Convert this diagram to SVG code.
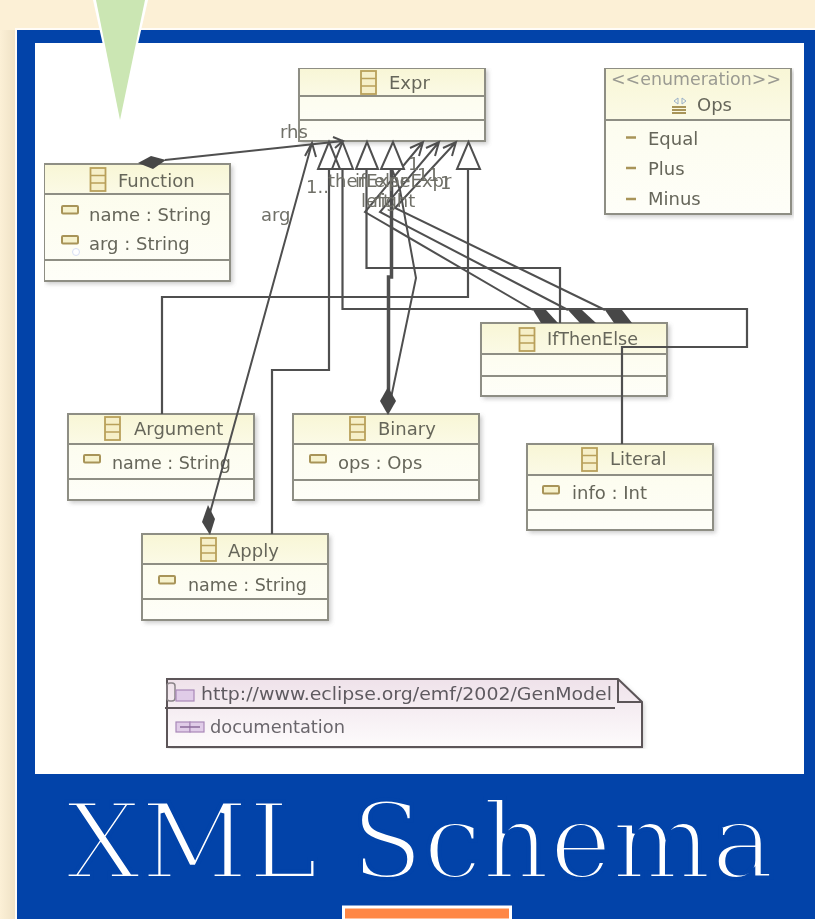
<svg xmlns="http://www.w3.org/2000/svg" xmlns:xlink="http://www.w3.org/1999/xlink" width="815" height="919" viewBox="0 0 815 919">
<style>
text{font-family:"DejaVu Sans",sans-serif;font-size:18px;fill:#66665a}
.box{fill:url(#body);stroke:#8e8e84;stroke-width:2}
.head{fill:url(#hd)}
.div{stroke:#8e8e84;stroke-width:2;fill:none}
.shadow{fill:#8c8c8c;opacity:.45;filter:url(#soft)}
.wire{fill:none;stroke:#505050;stroke-width:2.200}
.thin{fill:none;stroke:#505050;stroke-width:2}
.tri{fill:#fff;stroke:#505050;stroke-width:2}
.dk{fill:#474747}
.lbl{fill:#707068}
</style>
<defs>
<linearGradient id="bg" x1="0" x2="1" y1="0" y2="0"><stop offset="0" stop-color="#fcf0d6"/><stop offset="1" stop-color="#efe2c6"/></linearGradient>
<linearGradient id="hd" x1="0" x2="0" y1="0" y2="1"><stop offset="0" stop-color="#f8f6d6"/><stop offset="1" stop-color="#fbfae6"/></linearGradient>
<linearGradient id="body" x1="0" x2="0" y1="0" y2="1"><stop offset="0" stop-color="#fcfcea"/><stop offset="1" stop-color="#fefef8"/></linearGradient>
<linearGradient id="note" x1="0" x2="0" y1="0" y2="1"><stop offset="0" stop-color="#efe2ea"/><stop offset="1" stop-color="#fdfbfc"/></linearGradient>
<filter id="soft" x="-10%" y="-10%" width="120%" height="120%"><feGaussianBlur stdDeviation="2"/></filter>
<filter id="b" x="0" y="0" width="100%" height="100%"><feGaussianBlur stdDeviation="0.5"/></filter>
<g id="cls"><rect x="0" y="0" width="15" height="23" fill="#f6efc8" stroke="#b9a05a" stroke-width="1.8"/><path d="M0 7.500H15M0 15H15" stroke="#b9a05a" stroke-width="1.500"/></g>
<g id="att"><rect x="0" y="0" width="16" height="7.500" rx="1" fill="#f6f2cc" stroke="#a89458" stroke-width="2"/></g>
<g id="nicon"><rect x="0" y="0" width="14" height="10" fill="#e0cce8" stroke="#a888b8" stroke-width="1.200"/><rect x="14" y="0" width="14" height="10" fill="#e0cce8" stroke="#a888b8" stroke-width="1.200"/><path d="M4 5H24" stroke="#8a6a9a" stroke-width="1.500"/></g>
</defs>

<rect width="815" height="919" fill="#fcf0d6"/>
<rect x="0" y="30" width="15" height="889" fill="url(#bg)"/>
<rect x="15" y="28" width="800" height="891" fill="#fff" opacity=".8"/>
<rect x="17" y="30" width="798" height="889" fill="#0243a9"/>
<rect x="35" y="43" width="769" height="731" fill="#fff"/>
<polygon points="93,0 148,0 120,122" fill="#fff"/>
<polygon points="96,0 145,0 120,120" fill="#cbe6b3"/>

<g filter="url(#b)">
<g id="Expr">
<rect class="shadow" x="301" y="70" width="187" height="74"/>
<rect class="box" x="299" y="68" width="186" height="73"/>
<rect class="head" x="300" y="69" width="184" height="27"/>
<path class="div" d="M299 96H485M299 120H485"/>
<use xlink:href="#cls" x="361" y="71"/>
<text x="389" y="89">Expr</text>
</g>
<g id="Ops">
<rect class="shadow" x="607" y="70" width="187" height="147"/>
<rect class="box" x="605" y="68" width="186" height="146"/>
<rect class="head" x="606" y="69" width="184" height="51"/>
<path class="div" d="M605 120H791"/>
<text x="611" y="85" textLength="170" lengthAdjust="spacingAndGlyphs" style="fill:#9a9a92">&lt;&lt;enumeration&gt;&gt;</text>
<path d="M674 101l4-3v6zM686 101l-4-3v6z" fill="none" stroke="#9ab0c8" stroke-width="1"/>
<path d="M672 107h14M672 110h14M672 113h14" stroke="#a89458" stroke-width="2"/>
<text x="697" y="111">Ops</text>
<path d="M626 137.500h10M626 168h10M626 199h10" stroke="#a89458" stroke-width="2.500"/>
<text x="648" y="145">Equal</text>
<text x="648" y="175">Plus</text>
<text x="648" y="205">Minus</text>
</g>
<g id="Function">
<rect class="shadow" x="46" y="166" width="187" height="118"/>
<rect class="box" x="44" y="164" width="186" height="117"/>
<rect class="head" x="45" y="165" width="184" height="29"/>
<path class="div" d="M44 194H230M44 260H230"/>
<use xlink:href="#cls" x="90.500" y="168"/>
<text x="118" y="187">Function</text>
<use xlink:href="#att" x="62" y="206"/>
<text x="89" y="221">name : String</text>
<use xlink:href="#att" x="62" y="236"/>
<circle cx="76" cy="252" r="3.500" fill="#fff" stroke="#d8e0f4" stroke-width="1"/>
<text x="89" y="250">arg : String</text>
</g>
<g id="IfThenElse">
<rect class="shadow" x="483" y="325" width="187" height="74"/>
<rect class="box" x="481" y="323" width="186" height="73"/>
<rect class="head" x="482" y="324" width="184" height="30"/>
<path class="div" d="M481 354H667M481 376H667"/>
<use xlink:href="#cls" x="519.500" y="328"/>
<text x="547" y="345" textLength="91" lengthAdjust="spacingAndGlyphs">IfThenElse</text>
</g>
<g id="Argument">
<rect class="shadow" x="70" y="416" width="187" height="87"/>
<rect class="box" x="68" y="414" width="186" height="86"/>
<rect class="head" x="69" y="415" width="184" height="29"/>
<path class="div" d="M68 444H254M68 479H254"/>
<use xlink:href="#cls" x="105" y="417"/>
<text x="134" y="435">Argument</text>
<use xlink:href="#att" x="84" y="455"/>
<text x="112" y="469" textLength="119" lengthAdjust="spacingAndGlyphs">name : String</text>
</g>
<g id="Binary">
<rect class="shadow" x="295" y="416" width="187" height="87"/>
<rect class="box" x="293" y="414" width="186" height="86"/>
<rect class="head" x="294" y="415" width="184" height="29"/>
<path class="div" d="M293 444H479M293 480H479"/>
<use xlink:href="#cls" x="350" y="417"/>
<text x="378" y="435">Binary</text>
<use xlink:href="#att" x="310" y="455"/>
<text x="338" y="469">ops : Ops</text>
</g>
<g id="Literal">
<rect class="shadow" x="529" y="446" width="187" height="87"/>
<rect class="box" x="527" y="444" width="186" height="86"/>
<rect class="head" x="528" y="445" width="184" height="30"/>
<path class="div" d="M527 475H713M527 510H713"/>
<use xlink:href="#cls" x="582" y="448"/>
<text x="610" y="465">Literal</text>
<use xlink:href="#att" x="543" y="486"/>
<text x="572" y="499">info : Int</text>
</g>
<g id="Apply">
<rect class="shadow" x="144" y="536" width="187" height="87"/>
<rect class="box" x="142" y="534" width="186" height="86"/>
<rect class="head" x="143" y="535" width="184" height="29"/>
<path class="div" d="M142 564H328M142 599H328"/>
<use xlink:href="#cls" x="201" y="538"/>
<text x="228" y="557">Apply</text>
<use xlink:href="#att" x="159" y="576"/>
<text x="188" y="591" textLength="119" lengthAdjust="spacingAndGlyphs">name : String</text>
</g>
<g id="GenModel">
<path class="shadow" d="M169 681H620L644 704V749H169Z"/>
<path d="M167 679H618L642 702V747H167Z" fill="url(#note)" stroke="#5c5558" stroke-width="2"/>
<path d="M618 679V702H642" fill="none" stroke="#5c5558" stroke-width="2"/>
<path d="M165 708H615" stroke="#5c5558" stroke-width="2"/>
<rect x="167" y="683" width="8" height="18" rx="3" fill="none" stroke="#8a8488" stroke-width="1.500"/>
<rect x="176" y="690" width="18" height="11" fill="#e0cce8" stroke="#a888b8" stroke-width="1.200"/>
<text x="201" y="700" textLength="411" lengthAdjust="spacingAndGlyphs" style="fill:#5e5a60">http://www.eclipse.org/emf/2002/GenModel</text>
<use xlink:href="#nicon" x="176" y="722"/>
<text x="210" y="733" textLength="135" lengthAdjust="spacingAndGlyphs" style="fill:#6a666c">documentation</text>
</g>

<g id="connectors">
<path class="wire" d="M329 169V370H272V534"/>
<path class="wire" d="M342.500 169V309H747V347H622V444"/>
<path class="wire" d="M366.500 169V268H560V323"/>
<path class="wire" d="M468 169V297H162V414"/>
<path d="M391.500 169V277H388.500V398" fill="none" stroke="#505050" stroke-width="3.500"/>
<path class="thin" d="M392 169L400 190L416 278L391 398"/>
<path class="thin" d="M165 160L343 141M333 137L343 141L335 148"/>
<path class="thin" d="M208 520L312 143M305 156L312 143L316 157"/>
<path class="thin" d="M533 310L365 212L423 142M410 148L423 142L419 156"/>
<path class="thin" d="M568 310L380 212L439 142M426 148L439 142L435 156"/>
<path class="thin" d="M605 310L395 208L456 142M443 148L456 142L452 156"/>
<polygon class="tri" points="329,142 318,169 340,169"/>
<polygon class="tri" points="342.500,142 332,169 353,169" style="fill:none"/>
<polygon class="tri" points="367,142 356,169 378,169"/>
<polygon class="tri" points="393,142 381,169 404,169"/>
<polygon class="tri" points="468.500,142 457,169 480,169"/>
<polygon class="dk" points="138,163 151,156 166,160 153,169"/>
<polygon class="dk" points="208,505 215,519 210,535 202,522"/>
<polygon class="dk" points="388,387 396,401 388,415 380,401"/>
<polygon class="dk" points="533,310 546,310 558,323 541,323"/>
<polygon class="dk" points="568,310 582,310 596,323 580,323"/>
<polygon class="dk" points="605,310 622,310 632,323 614,323"/>
</g>
<g id="labels">
<text class="lbl" x="280" y="138">rhs</text>
<text class="lbl" x="261" y="221">arg</text>
<text class="lbl" x="306" y="193">1..</text>
<text class="lbl" x="328" y="187">then</text>
<text class="lbl" x="355" y="187">ifExpr</text>
<text class="lbl" x="374" y="187">elseExpr</text>
<text class="lbl" x="361" y="207">left</text>
<text class="lbl" x="373" y="207">right</text>
<text class="lbl" x="408" y="170">1</text>
<text class="lbl" x="417" y="181">1</text>
<text class="lbl" x="428" y="181">1</text>
<text class="lbl" x="440" y="189">1</text>
</g>
</g>

<text x="66" y="878" textLength="708" lengthAdjust="spacingAndGlyphs" style="font-family:'DejaVu Serif',serif;font-size:105px;fill:#fff;stroke:#0243a9;stroke-width:4px">XML Schema</text>
<rect x="343.500" y="907" width="167" height="13" fill="#ff8745" stroke="#fff" stroke-width="3"/>
</svg>
